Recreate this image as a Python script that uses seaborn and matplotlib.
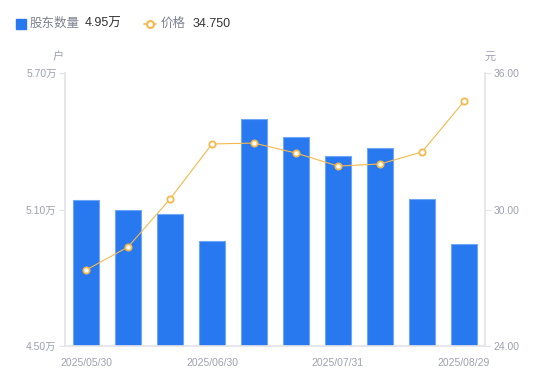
import numpy as np
import pandas as pd
import matplotlib
matplotlib.use("Agg")
import matplotlib.pyplot as plt
import matplotlib.transforms as mtransforms
import seaborn as sns
from matplotlib.lines import Line2D

# --- DATA ---
dates = ["2025/05/30", "2025/06/10", "2025/06/20", "2025/06/30", "2025/07/10",
         "2025/07/20", "2025/07/31", "2025/08/10", "2025/08/20", "2025/08/29"]
holders = [5.14, 5.10, 5.08, 4.96, 5.50, 5.42, 5.335, 5.37, 5.145, 4.95]   # 万户
price = [27.34, 28.35, 30.46, 32.88, 32.92, 32.48, 31.91, 32.00, 32.53, 34.75]
left_ticks = [4.50, 5.10, 5.70]
right_ticks = [24.00, 30.00, 36.00]
shown_dates = ["2025/05/30", "2025/06/30", "2025/07/31", "2025/08/29"]

df = pd.DataFrame({"date": dates, "holders": holders, "price": price, "pos": np.arange(len(dates))})

# --- STYLE ---
sns.set_theme(style="white")
plt.rcParams['font.family'] = ['Liberation Sans', 'Noto Sans CJK SC', 'DejaVu Sans']
BLUE = "#2878F0"
ORANGE = "#F7B84B"
TICK_C = "#9EA1B2"
AXIS_C = "#E3E4E8"

fig = plt.figure(figsize=(5.5, 3.81), dpi=100)
ax = fig.add_axes([65 / 550, 35 / 381, 420 / 550, 273 / 381])

sns.barplot(data=df, x="date", y="holders", color=BLUE, saturation=1, width=0.6,
            edgecolor="#6FA6F6", linewidth=0.8, ax=ax)
ax.set_ylim(4.5, 5.7)
ax.set_xlim(-0.5, 9.5)

ax2 = ax.twinx()
sns.lineplot(data=df, x="pos", y="price", color=ORANGE, lw=0.8, marker="o", markersize=4.5,
             markerfacecolor="white", markeredgecolor=ORANGE, markeredgewidth=1.3, ax=ax2)
ax2.set_ylim(24, 36)
ax2.set_xlim(-0.5, 9.5)

# axes look
for a in (ax, ax2):
    for s in a.spines.values():
        s.set_visible(False)
    a.set_xlabel("")
    a.set_ylabel("")
ax.spines["left"].set_visible(True)
ax.spines["left"].set_color(AXIS_C)
ax.spines["bottom"].set_visible(True)
ax.spines["bottom"].set_color(AXIS_C)
ax2.spines["right"].set_visible(True)
ax2.spines["right"].set_color(AXIS_C)

ax.set_yticks(left_ticks)
ax.set_yticklabels([f"{v:.2f}万" for v in left_ticks])
ax2.set_yticks(right_ticks)
ax2.set_yticklabels([f"{v:.2f}" for v in right_ticks])
ax.tick_params(axis="y", left=True, length=4, width=0.8, color=AXIS_C, labelcolor=TICK_C, labelsize=7.5, pad=2)
ax2.tick_params(axis="y", right=True, length=4, width=0.8, color=AXIS_C, labelcolor=TICK_C, labelsize=7.5, pad=2)

pos_shown = [dates.index(d) for d in shown_dates]
ax.set_xticks(pos_shown)
ax.set_xticklabels(shown_dates)
ax.tick_params(axis="x", bottom=False, labelcolor=TICK_C, labelsize=7.5, pad=3)
labs = ax.get_xticklabels()
labs[-1].set_horizontalalignment("right")
labs[-1].set_transform(labs[-1].get_transform() + mtransforms.ScaledTranslation(26 / 100, 0, fig.dpi_scale_trans))

# units
fig.text(58 / 550, 1 - 57 / 381, "户", color=TICK_C, fontsize=8, ha="center", va="center")
fig.text(490 / 550, 1 - 57 / 381, "元", color=TICK_C, fontsize=8, ha="center", va="center")

# legend row
ly = 1 - 24 / 381
fig.add_artist(Line2D([21 / 550], [ly], marker="s", markersize=6.5, color=BLUE, transform=fig.transFigure))
fig.text(30 / 550, ly, "股东数量", color="#7E8190", fontsize=9, va="center")
fig.text(85 / 550, ly, "4.95万", color="#333333", fontsize=9, va="center")
fig.add_artist(Line2D([144 / 550, 156 / 550], [ly, ly], color=ORANGE, lw=1.2, transform=fig.transFigure))
fig.add_artist(Line2D([150 / 550], [ly], marker="o", markersize=5, markerfacecolor="white",
                      markeredgecolor=ORANGE, markeredgewidth=1.5, transform=fig.transFigure))
fig.text(161 / 550, ly, "价格", color="#7E8190", fontsize=9, va="center")
fig.text(193 / 550, ly, "34.750", color="#333333", fontsize=9, va="center")

fig.savefig("out.png", dpi=100)
